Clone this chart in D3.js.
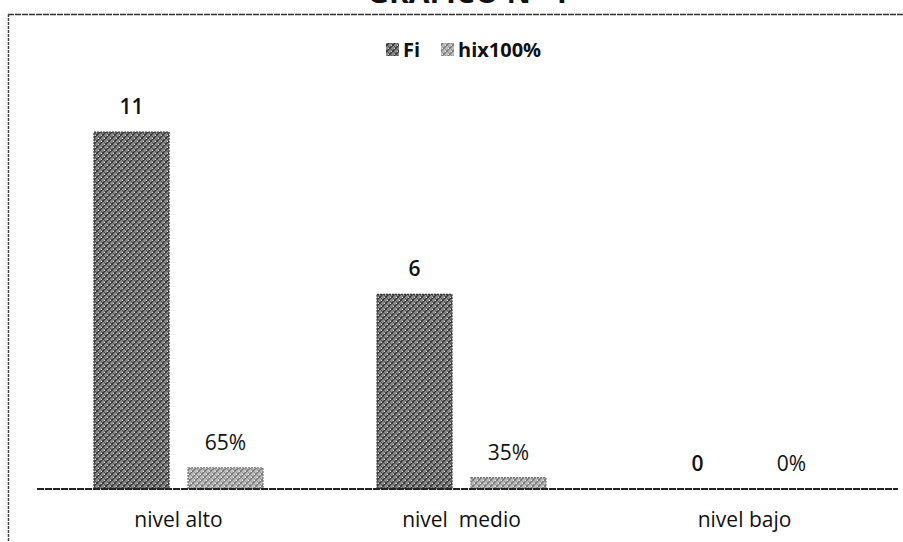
<!DOCTYPE html>
<html><head><meta charset="utf-8">
<script src="https://cdn.jsdelivr.net/npm/d3@7"></script>
<style>
html,body{margin:0;padding:0;background:#fff;}
svg{display:block;}
text{font-family:"Open Sans",sans-serif;fill:#111;}
</style></head>
<body>
<svg id="chart" width="903" height="542"></svg>
<script>
const categories = ["nivel alto", "nivel  medio", "nivel bajo"];
const seriesNames = ["Fi", "hix100%"];
const fiValues = [11, 6, 0];
const hixValues = [0.65, 0.35, 0];
const fiLabels = ["11", "6", "0"];
const hixLabels = ["65%", "35%", "0%"];
const titleText = "GRÁFICO N° 1";

const svg = d3.select("#chart");
const W = 903, H = 542;
const baseY = 489;

// patterns to mimic the scanned texture
const defs = svg.append("defs");
function makePattern(id, bg, fg, fg2) {
  const p = defs.append("pattern").attr("id", id).attr("patternUnits", "userSpaceOnUse")
    .attr("width", 6).attr("height", 6);
  p.append("rect").attr("width", 6).attr("height", 6).attr("fill", bg);
  p.append("path").attr("d", "M0,6 L6,0 M-1,1 L1,-1 M5,7 L7,5").attr("stroke", fg).attr("stroke-width", 1.4);
  p.append("path").attr("d", "M0,0 L6,6").attr("stroke", fg).attr("stroke-width", 0.6);
  p.append("rect").attr("x", 1).attr("y", 3).attr("width", 1).attr("height", 1).attr("fill", fg2);
  p.append("rect").attr("x", 4).attr("y", 0).attr("width", 1).attr("height", 1).attr("fill", fg2);
}
makePattern("patFi", "#8a8a8a", "#333", "#d8d8d8");
makePattern("patHix", "#bdbdbd", "#777", "#ececec");

// frame
svg.append("line").attr("x1", 8).attr("x2", W).attr("y1", 14.5).attr("y2", 14.5)
  .attr("stroke", "#333").attr("stroke-width", 1.5).attr("stroke-dasharray", "6,1");
svg.append("line").attr("x1", 8.5).attr("x2", 8.5).attr("y1", 14).attr("y2", H)
  .attr("stroke", "#444").attr("stroke-width", 1.5).attr("stroke-dasharray", "3,1");

// clipped title (only the bottom of it is inside the picture)
svg.append("text").attr("x", 468).attr("y", 3).attr("text-anchor", "middle")
  .attr("font-size", 30).attr("font-weight", 700).text(titleText);

const x0 = d3.scaleBand().domain(categories).range([37, 886]).paddingInner(0.403).paddingOuter(0.2015);
const x1 = d3.scaleBand().domain(seriesNames).range([0, x0.bandwidth()]).paddingInner(0.202);
const y = d3.scaleLinear().domain([0, 12]).range([baseY, baseY - 12 * 32.45]);

const rows = categories.map((c, i) => ({
  cat: c,
  vals: [
    {s: "Fi", v: fiValues[i], lab: fiLabels[i], fill: "url(#patFi)", stroke: "#333"},
    {s: "hix100%", v: hixValues[i], lab: hixLabels[i], fill: "url(#patHix)", stroke: "#777"}
  ]
}));

const g = svg.append("g");
const groups = g.selectAll("g.grp").data(rows).join("g").attr("class", "grp")
  .attr("transform", d => `translate(${x0(d.cat)},0)`);

groups.selectAll("rect").data(d => d.vals.filter(v => v.v > 0)).join("rect")
  .attr("x", d => x1(d.s)).attr("width", x1.bandwidth())
  .attr("y", d => y(d.v)).attr("height", d => baseY - y(d.v))
  .attr("fill", d => d.fill).attr("stroke", d => d.stroke).attr("stroke-width", 1.2)
  .attr("stroke-dasharray", "2,1");

groups.selectAll("text.val").data(d => d.vals).join("text").attr("class", "val")
  .attr("x", d => x1(d.s) + x1.bandwidth() / 2)
  .attr("y", d => y(d.v) - 18)
  .attr("text-anchor", "middle").attr("font-size", 21)
  .attr("font-weight", d => d.s === "Fi" ? 600 : 400)
  .text(d => d.lab);

// x axis baseline
const xAxis = d3.axisBottom(x0).tickSize(0).tickPadding(23);
const ax = svg.append("g").attr("transform", `translate(0,${baseY})`).call(xAxis);
ax.select(".domain").attr("stroke", "#222").attr("stroke-width", 2).attr("stroke-dasharray", "7,1")
  .attr("d", "M37,0H898");
ax.selectAll("text").attr("font-size", 21).attr("fill", "#111")
  .style("font-family", "'Open Sans',sans-serif").style("white-space", "pre");

// legend
const legend = svg.append("g");
const legItems = [
  {name: seriesNames[0], fill: "url(#patFi)", x: 386},
  {name: seriesNames[1], fill: "url(#patHix)", x: 441}
];
legItems.forEach(it => {
  legend.append("rect").attr("x", it.x).attr("y", 43).attr("width", 13).attr("height", 13).attr("fill", it.fill);
  legend.append("text").attr("x", it.x + 17).attr("y", 56.5).attr("font-size", 20).attr("font-weight", 700).text(it.name);
});
</script>
</body></html>
